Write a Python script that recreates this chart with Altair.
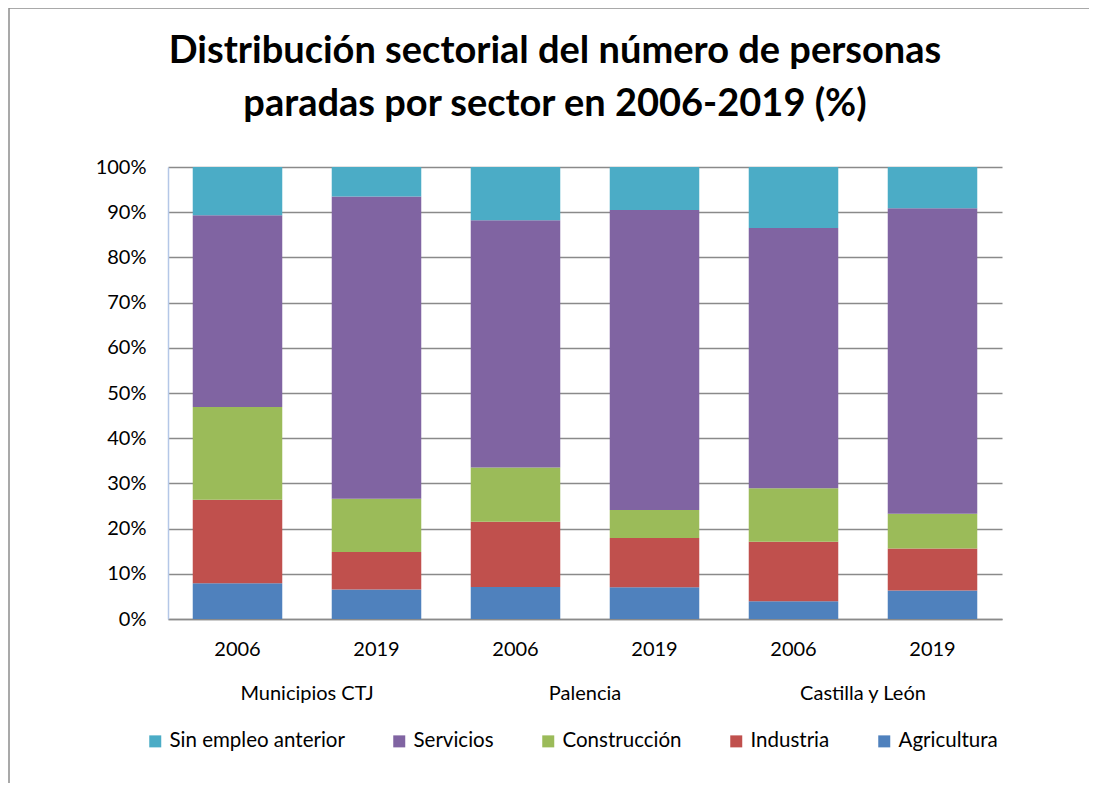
import altair as alt
import pandas as pd

regiones = ["Municipios CTJ", "Palencia", "Castilla y León"]
anios = ["2006", "2019"]
sectores = ["Sin empleo anterior", "Servicios", "Construcción", "Industria", "Agricultura"]
colores = ["#4BACC6", "#8064A2", "#9BBB59", "#C0504D", "#4F81BD"]

# valores (%) por barra: CTJ 2006, CTJ 2019, Palencia 2006, Palencia 2019, CyL 2006, CyL 2019
agricultura = [7.9, 6.5, 7.1, 7.0, 3.9, 6.3]
industria = [18.5, 8.3, 14.4, 10.9, 13.2, 9.3]
construccion = [20.5, 11.8, 12.0, 6.2, 11.8, 7.7]
servicios = [42.4, 66.9, 54.7, 66.4, 57.6, 67.6]
sin_empleo = [10.7, 6.5, 11.8, 9.5, 13.5, 9.1]

titulo = ["Distribución sectorial del número de personas",
          "paradas por sector en 2006-2019 (%)"]

FONT = "Lato"

barras = [f"{r}|{a}" for r in regiones for a in anios]
series = {
    "Agricultura": agricultura,
    "Industria": industria,
    "Construcción": construccion,
    "Servicios": servicios,
    "Sin empleo anterior": sin_empleo,
}
orden_stack = {"Agricultura": 0, "Industria": 1, "Construcción": 2, "Servicios": 3, "Sin empleo anterior": 4}

rows = []
for s, vals in series.items():
    for b, v in zip(barras, vals):
        rows.append({"barra": b, "sector": s, "valor": v, "orden": orden_stack[s]})
df = pd.DataFrame(rows)

grupos = pd.DataFrame({"barra": [f"{r}|2006" for r in regiones], "region": regiones})

W, H = 834, 452

x_enc = alt.X("barra:N", sort=barras, title=None,
              scale=alt.Scale(paddingInner=0.356, paddingOuter=0.178))

bars = alt.Chart(df).mark_bar().encode(
    x=x_enc,
    y=alt.Y("valor:Q", stack="zero", title=None,
            scale=alt.Scale(domain=[0, 100], nice=False),
            axis=alt.Axis(values=list(range(0, 101, 10)), labelExpr="datum.value + '%'")),
    color=alt.Color("sector:N", scale=alt.Scale(domain=sectores, range=colores),
                    legend=alt.Legend(title=None)),
    order=alt.Order("orden:Q", sort="ascending"),
)

group_text = alt.Chart(grupos).mark_text(
    font=FONT, fontSize=20, color="black", baseline="middle", dx=69.5
).encode(
    x=alt.X("barra:N", sort=barras, title=None),
    y=alt.value(527),
    text="region:N",
)

frame_df = pd.DataFrame({"k": [0]})
frame_left = alt.Chart(frame_df).mark_rule(color="#8c8c8c", strokeWidth=1.5).encode(
    x=alt.value(-159), y=alt.value(-159), y2=alt.value(700))
frame_top = alt.Chart(frame_df).mark_rule(color="#8c8c8c", strokeWidth=1.5).encode(
    x=alt.value(-159), x2=alt.value(1000), y=alt.value(-159))

chart = alt.layer(bars, group_text, frame_left, frame_top).properties(
    width=W, height=H,
    title=alt.TitleParams(text=titulo, font=FONT, fontSize=38, fontWeight="bold",
                          color="black", lineHeight=53, anchor="middle", dx=-30,
                          offset=0, dy=117),
    autosize=alt.AutoSizeParams(type="none"),
    padding={"left": 160, "top": 159, "right": 87, "bottom": 164},
    background="white",
).configure_view(stroke=None).configure_axisY(
    domainColor="#b4c7e7", domainWidth=1.5, gridColor="#8a8a8a", gridWidth=1.5,
    ticks=False, labelFont=FONT, labelFontSize=20, labelPadding=22, labelColor="black",
).configure_axisX(
    domainColor="#8a8a8a", domainWidth=1.5, ticks=False, grid=False,
    labelFont=FONT, labelFontSize=20, labelPadding=20, labelColor="black", labelAngle=0,
    labelExpr="split(datum.label, '|')[1]",
).configure_legend(
    orient="none", legendX=-23, legendY=564, direction="horizontal",
    symbolType="square", symbolSize=144, symbolStrokeWidth=0,
    labelFont=FONT, labelFontSize=20.5, labelColor="black", labelLimit=400,
    labelOffset=4, columnPadding=44,
)

chart.save("out.html", embed_options={"renderer": "svg", "actions": False})
